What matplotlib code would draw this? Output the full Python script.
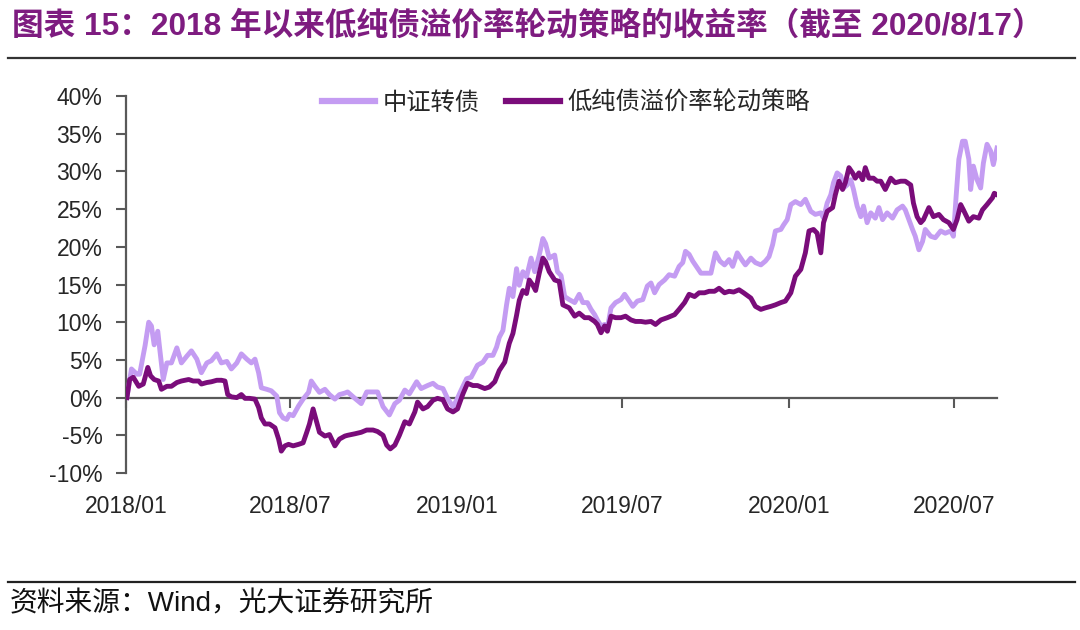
import matplotlib
matplotlib.use("Agg")
import matplotlib.pyplot as plt
import matplotlib.dates as mdates
import matplotlib.lines as mlines
import pandas as pd

# ---------------- data ----------------
title_text = "图表 15：2018 年以来低纯债溢价率轮动策略的收益率（截至 2020/8/17）"
source_text = "资料来源：Wind，光大证券研究所"
series_names = ["中证转债", "低纯债溢价率轮动策略"]
y_ticks = [-10, -5, 0, 5, 10, 15, 20, 25, 30, 35, 40]
x_tick_dates = ["2018-01-01", "2018-07-01", "2019-01-01", "2019-07-01", "2020-01-01", "2020-07-01"]
x_range = ["2018-01-01", "2020-08-17"]

cb_dates = [
    "2018-01-02", "2018-01-07", "2018-01-13", "2018-01-16", "2018-01-22", "2018-01-26", "2018-01-29",
    "2018-02-01", "2018-02-05", "2018-02-07", "2018-02-11", "2018-02-15", "2018-02-20", "2018-02-26",
    "2018-03-03", "2018-03-09", "2018-03-14", "2018-03-20", "2018-03-25", "2018-03-31", "2018-04-05",
    "2018-04-11", "2018-04-16", "2018-04-22", "2018-04-27", "2018-05-03", "2018-05-08", "2018-05-14",
    "2018-05-19", "2018-05-23", "2018-05-27", "2018-05-30", "2018-06-05", "2018-06-10", "2018-06-16",
    "2018-06-19", "2018-06-23", "2018-06-27", "2018-06-30", "2018-07-04", "2018-07-10", "2018-07-15",
    "2018-07-21", "2018-07-24", "2018-07-28", "2018-08-02", "2018-08-08", "2018-08-13", "2018-08-19",
    "2018-08-24", "2018-08-30", "2018-09-02", "2018-09-10", "2018-09-17", "2018-09-23", "2018-09-30",
    "2018-10-05", "2018-10-11", "2018-10-18", "2018-10-24", "2018-10-29", "2018-11-04", "2018-11-09",
    "2018-11-17", "2018-11-22", "2018-11-29", "2018-12-05", "2018-12-10", "2018-12-16", "2018-12-21",
    "2018-12-27", "2018-12-31", "2019-01-05", "2019-01-11", "2019-01-16", "2019-01-23", "2019-01-29",
    "2019-02-03", "2019-02-09", "2019-02-13", "2019-02-16", "2019-02-20", "2019-02-24", "2019-02-27",
    "2019-03-03", "2019-03-07", "2019-03-10", "2019-03-14", "2019-03-18", "2019-03-23", "2019-03-27",
    "2019-04-01", "2019-04-05", "2019-04-08", "2019-04-12", "2019-04-18", "2019-04-21", "2019-04-25",
    "2019-04-29", "2019-05-04", "2019-05-10", "2019-05-15", "2019-05-19", "2019-05-24", "2019-05-28",
    "2019-06-01", "2019-06-04", "2019-06-08", "2019-06-12", "2019-06-15", "2019-06-19", "2019-06-24",
    "2019-06-30", "2019-07-04", "2019-07-09", "2019-07-13", "2019-07-18", "2019-07-24", "2019-07-29",
    "2019-08-02", "2019-08-06", "2019-08-11", "2019-08-17", "2019-08-22", "2019-08-28", "2019-09-02",
    "2019-09-06", "2019-09-09", "2019-09-13", "2019-09-17", "2019-09-22", "2019-09-26", "2019-10-01",
    "2019-10-07", "2019-10-12", "2019-10-17", "2019-10-22", "2019-10-27", "2019-10-31", "2019-11-05",
    "2019-11-11", "2019-11-14", "2019-11-20", "2019-11-25", "2019-12-01", "2019-12-06", "2019-12-10",
    "2019-12-14", "2019-12-17", "2019-12-23", "2019-12-26", "2019-12-30", "2020-01-03", "2020-01-08",
    "2020-01-14", "2020-01-19", "2020-01-25", "2020-01-30", "2020-02-05", "2020-02-08", "2020-02-12",
    "2020-02-16", "2020-02-19", "2020-02-23", "2020-02-27", "2020-03-01", "2020-03-05", "2020-03-09",
    "2020-03-12", "2020-03-16", "2020-03-20", "2020-03-23", "2020-03-27", "2020-03-31", "2020-04-05",
    "2020-04-09", "2020-04-13", "2020-04-18", "2020-04-24", "2020-04-29", "2020-05-05", "2020-05-08",
    "2020-05-12", "2020-05-16", "2020-05-19", "2020-05-23", "2020-05-27", "2020-05-30", "2020-06-05",
    "2020-06-10", "2020-06-16", "2020-06-21", "2020-06-27", "2020-06-30", "2020-07-03", "2020-07-06",
    "2020-07-10", "2020-07-13", "2020-07-17", "2020-07-19", "2020-07-22", "2020-07-26", "2020-07-30",
    "2020-08-02", "2020-08-06", "2020-08-10", "2020-08-13", "2020-08-17",
]
cb_values = [
    0.0, 3.8, 3.1, 3.1, 6.9, 10.0, 9.5,
    7.0, 8.8, 6.6, 2.4, 4.6, 4.6, 6.6,
    4.6, 5.5, 6.2, 5.1, 3.3, 4.6, 4.9,
    5.8, 4.6, 4.8, 3.8, 4.6, 5.8, 5.1,
    4.6, 5.1, 3.3, 1.3, 1.1, 0.9, 0.2,
    -2.0, -2.7, -2.9, -2.2, -2.4, -1.1, -0.2,
    0.7, 2.2, 1.5, 0.7, 1.1, 0.4, -0.2,
    0.4, 0.6, 0.75, -0.1, -0.8, 0.75, 0.75,
    0.75, -1.2, -2.3, -0.8, -0.35, 1.0, 0.5,
    2.1, 1.2, 1.6, 1.9, 1.4, 1.2, -0.1,
    -1.2, -0.35, 1.0, 2.5, 2.7, 4.3, 4.7,
    5.6, 5.6, 6.7, 8.0, 8.9, 12.3, 14.5,
    13.4, 17.1, 14.9, 16.7, 16.0, 18.5, 16.7,
    18.9, 21.1, 20.4, 18.5, 18.9, 16.7, 16.2,
    13.4, 13.0, 12.6, 13.7, 12.6, 12.6, 11.7,
    11.0, 10.3, 9.5, 9.7, 9.2, 11.9, 12.6,
    13.0, 13.7, 12.8, 12.1, 12.8, 13.0, 14.8,
    15.2, 13.9, 15.0, 15.6, 16.3, 16.1, 17.4,
    17.9, 19.4, 19.0, 18.1, 17.2, 16.5, 16.5,
    16.5, 19.2, 18.1, 17.6, 18.3, 17.4, 19.2,
    18.1, 17.6, 18.5, 17.9, 17.6, 18.1, 18.7,
    20.3, 22.1, 22.3, 22.9, 23.6, 25.6, 26.0,
    25.6, 26.3, 24.7, 24.3, 24.5, 23.8, 25.8,
    26.9, 28.5, 29.8, 29.4, 27.8, 28.2, 28.9,
    27.6, 25.4, 24.0, 25.4, 23.2, 24.5, 23.8,
    25.2, 23.6, 24.5, 23.8, 24.9, 25.4, 24.9,
    23.6, 22.3, 21.4, 19.6, 20.7, 22.3, 21.4,
    21.2, 22.1, 21.8, 22.1, 21.4, 26.7, 31.6,
    34.0, 34.0, 31.6, 27.6, 30.7, 28.9, 27.8,
    31.1, 33.6, 32.7, 30.9, 33.1,
]

st_dates = [
    "2018-01-02", "2018-01-05", "2018-01-09", "2018-01-15", "2018-01-20", "2018-01-25", "2018-01-28",
    "2018-02-01", "2018-02-06", "2018-02-09", "2018-02-15", "2018-02-20", "2018-02-26", "2018-03-03",
    "2018-03-11", "2018-03-16", "2018-03-22", "2018-03-25", "2018-03-31", "2018-04-05", "2018-04-11",
    "2018-04-16", "2018-04-20", "2018-04-23", "2018-04-27", "2018-05-03", "2018-05-08", "2018-05-12",
    "2018-05-17", "2018-05-23", "2018-05-27", "2018-05-30", "2018-06-03", "2018-06-08", "2018-06-14",
    "2018-06-18", "2018-06-21", "2018-06-25", "2018-06-29", "2018-07-04", "2018-07-10", "2018-07-15",
    "2018-07-19", "2018-07-22", "2018-07-26", "2018-07-30", "2018-08-02", "2018-08-08", "2018-08-13",
    "2018-08-19", "2018-08-24", "2018-08-30", "2018-09-02", "2018-09-10", "2018-09-17", "2018-09-23",
    "2018-09-30", "2018-10-05", "2018-10-11", "2018-10-15", "2018-10-19", "2018-10-24", "2018-10-29",
    "2018-11-04", "2018-11-09", "2018-11-15", "2018-11-18", "2018-11-24", "2018-11-29", "2018-12-05",
    "2018-12-10", "2018-12-16", "2018-12-21", "2018-12-27", "2019-01-01", "2019-01-07", "2019-01-12",
    "2019-01-18", "2019-01-23", "2019-01-31", "2019-02-05", "2019-02-11", "2019-02-16", "2019-02-22",
    "2019-02-27", "2019-03-03", "2019-03-07", "2019-03-10", "2019-03-14", "2019-03-18", "2019-03-21",
    "2019-03-25", "2019-03-28", "2019-04-01", "2019-04-05", "2019-04-08", "2019-04-12", "2019-04-18",
    "2019-04-23", "2019-04-27", "2019-05-04", "2019-05-10", "2019-05-15", "2019-05-21", "2019-05-26",
    "2019-06-01", "2019-06-04", "2019-06-08", "2019-06-12", "2019-06-15", "2019-06-19", "2019-06-24",
    "2019-06-30", "2019-07-05", "2019-07-11", "2019-07-16", "2019-07-22", "2019-07-27", "2019-08-02",
    "2019-08-07", "2019-08-13", "2019-08-20", "2019-08-28", "2019-09-02", "2019-09-08", "2019-09-13",
    "2019-09-19", "2019-09-24", "2019-09-30", "2019-10-05", "2019-10-11", "2019-10-16", "2019-10-22",
    "2019-10-27", "2019-11-01", "2019-11-07", "2019-11-12", "2019-11-20", "2019-11-25", "2019-12-01",
    "2019-12-06", "2019-12-12", "2019-12-17", "2019-12-23", "2019-12-28", "2020-01-03", "2020-01-08",
    "2020-01-14", "2020-01-19", "2020-01-23", "2020-01-28", "2020-02-01", "2020-02-05", "2020-02-08",
    "2020-02-12", "2020-02-18", "2020-02-21", "2020-02-25", "2020-02-29", "2020-03-03", "2020-03-07",
    "2020-03-11", "2020-03-14", "2020-03-18", "2020-03-22", "2020-03-25", "2020-03-29", "2020-04-03",
    "2020-04-07", "2020-04-11", "2020-04-16", "2020-04-22", "2020-04-27", "2020-05-03", "2020-05-08",
    "2020-05-14", "2020-05-17", "2020-05-21", "2020-05-25", "2020-05-28", "2020-06-03", "2020-06-08",
    "2020-06-14", "2020-06-19", "2020-06-25", "2020-06-30", "2020-07-04", "2020-07-08", "2020-07-11",
    "2020-07-17", "2020-07-22", "2020-07-28", "2020-08-01", "2020-08-06", "2020-08-12", "2020-08-14",
    "2020-08-17",
]
st_values = [
    0.0, 2.4, 2.7, 1.5, 1.8, 4.0, 2.9,
    2.4, 2.2, 1.1, 1.5, 1.5, 2.0, 2.2,
    2.4, 2.2, 2.2, 1.8, 2.0, 2.1, 2.3,
    2.3, 2.2, 0.4, 0.1, 0.0, 0.4, -0.1,
    -0.1, -0.2, -1.3, -2.7, -3.5, -3.5, -4.0,
    -5.5, -7.1, -6.4, -6.2, -6.4, -6.2, -6.0,
    -4.6, -3.5, -1.5, -3.3, -4.6, -5.1, -4.9,
    -6.4, -5.5, -5.1, -5.0, -4.8, -4.6, -4.3,
    -4.3, -4.5, -5.0, -6.3, -6.8, -6.3, -5.0,
    -3.2, -3.5, -1.9, -0.6, -1.5, -1.2, -0.35,
    -0.1, -0.3, -1.5, -1.9, -1.5, 0.5, 1.9,
    1.6, 1.6, 1.2, 1.4, 2.1, 3.6, 4.7,
    7.2, 8.5, 10.9, 12.9, 14.2, 13.8, 15.6,
    14.9, 14.2, 16.5, 18.5, 18.0, 16.7, 15.6,
    15.4, 12.3, 11.9, 10.8, 11.2, 10.6, 10.6,
    10.1, 9.7, 8.6, 9.5, 8.8, 10.8, 10.6,
    10.6, 10.8, 10.3, 10.1, 10.1, 10.0, 10.1,
    9.7, 10.3, 10.6, 11.0, 11.7, 12.6, 13.7,
    13.4, 13.9, 13.9, 14.1, 14.1, 14.5, 13.9,
    14.1, 14.0, 14.3, 13.9, 13.2, 12.1, 11.7,
    11.9, 12.1, 12.3, 12.6, 12.8, 13.9, 16.1,
    17.0, 19.2, 22.1, 22.3, 21.8, 19.2, 23.2,
    24.7, 25.2, 26.9, 28.7, 27.6, 28.5, 30.5,
    29.8, 29.1, 29.8, 28.9, 30.5, 29.1, 29.1,
    28.7, 28.7, 27.6, 29.1, 28.5, 28.7, 28.7,
    28.2, 25.8, 24.0, 23.2, 23.6, 25.2, 24.0,
    24.3, 23.6, 23.2, 22.3, 23.6, 25.6, 24.9,
    23.4, 24.0, 23.8, 24.9, 25.6, 26.5, 27.1,
    26.9,
]

# ---------------- style ----------------
LIGHT = "#C49CF2"
DARK = "#7A0C7A"
TITLE_C = "#7E1C80"
AXIS_C = "#595959"
TEXT_C = "#262626"
LATIN_CJK = ["Liberation Sans", "Noto Sans CJK SC", "DejaVu Sans"]
CJK = ["Noto Sans CJK SC", "DejaVu Sans"]

plt.rcParams["font.family"] = LATIN_CJK

fig = plt.figure(figsize=(10.8, 6.3), dpi=100)
fig.patch.set_facecolor("white")
ax = fig.add_axes([126 / 1080, 1 - 473 / 630, (997 - 126) / 1080, (473 - 96) / 630])

cb_x = pd.to_datetime(cb_dates)
st_x = pd.to_datetime(st_dates)
ax.plot(cb_x, cb_values, color=LIGHT, lw=3.5, solid_joinstyle="round", zorder=3)
ax.plot(st_x, st_values, color=DARK, lw=3.5, solid_joinstyle="round", zorder=4)

ax.set_ylim(y_ticks[0], y_ticks[-1])
ax.set_xlim(pd.Timestamp(x_range[0]), pd.Timestamp(x_range[1]))

# y axis
ax.set_yticks(y_ticks)
ax.set_yticklabels([f"{v}%" for v in y_ticks])
ax.tick_params(axis="y", direction="out", length=7, width=1.5, color=AXIS_C,
               labelsize=16.5, labelcolor=TEXT_C, pad=10)
ax.spines["left"].set_color(AXIS_C)
ax.spines["left"].set_linewidth(1.6)
ax.spines["right"].set_visible(False)
ax.spines["top"].set_visible(False)

# x axis line at zero with ticks
xt = pd.to_datetime(x_tick_dates)
ax.spines["bottom"].set_position(("data", 0))
ax.spines["bottom"].set_color(AXIS_C)
ax.spines["bottom"].set_linewidth(1.6)
ax.set_xticks(xt)
ax.tick_params(axis="x", direction="out", length=7, width=1.5, color=AXIS_C,
               labelbottom=False)

# x labels at the bottom of the plot area
sec = ax.secondary_xaxis("bottom")
sec.spines["bottom"].set_visible(False)
sec.set_xticks(xt)
sec.xaxis.set_major_formatter(mdates.DateFormatter("%Y/%m"))
sec.tick_params(axis="x", length=0, pad=16, labelsize=16.5, labelcolor=TEXT_C)

# legend
h1 = mlines.Line2D([], [], color=LIGHT, lw=4.5)
h2 = mlines.Line2D([], [], color=DARK, lw=4.5)
leg = ax.legend([h1, h2], series_names, loc="center", bbox_to_anchor=(0.505, 0.982),
                ncol=2, frameon=False, handlelength=2.2, handletextpad=0.3,
                columnspacing=1.1, prop={"family": CJK, "size": 17.5})
for t in leg.get_texts():
    t.set_color(TEXT_C)

# title, rules, source
fig.text(0.011, 1 - 26 / 630, title_text, color=TITLE_C, fontsize=22.8, fontweight="bold",
         ha="left", va="center", family=LATIN_CJK)
fig.add_artist(mlines.Line2D([8 / 1080, 1075 / 1080], [1 - 58 / 630, 1 - 58 / 630],
                             color="#333333", lw=1.6))
fig.add_artist(mlines.Line2D([8 / 1080, 1075 / 1080], [1 - 582 / 630, 1 - 582 / 630],
                             color="#222222", lw=1.6))
fig.text(0.009, 1 - 604 / 630, source_text, color="#111111", fontsize=20,
         ha="left", va="center", family=LATIN_CJK)

fig.savefig("out.png", dpi=100, facecolor="white")
